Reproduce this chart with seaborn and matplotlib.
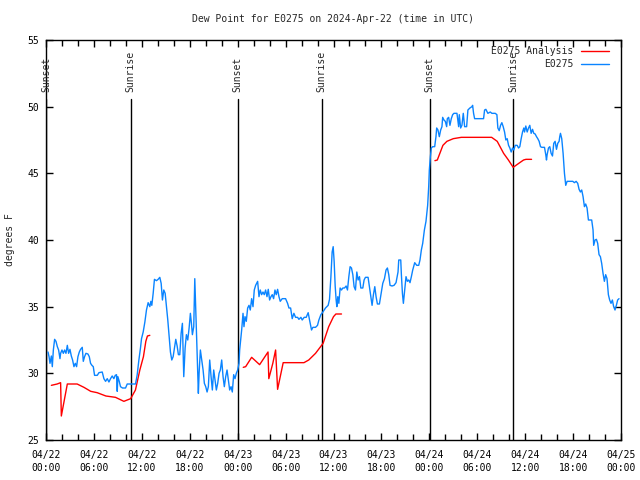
import numpy as np
import pandas as pd
import matplotlib
matplotlib.use("Agg")
import matplotlib.pyplot as plt
import matplotlib.dates as mdates
import seaborn as sns

# ---------------- data ----------------
start = pd.Timestamp("2024-04-22 00:00")
end = pd.Timestamp("2024-04-25 00:00")

# observed dew point (hours since 04/22 00:00 UTC, deg F)
obs_hours = [0.25, 0.38, 0.5, 0.67, 0.79, 0.92, 1.08, 1.25, 1.42, 1.58, 1.75, 1.83, 2.0, 2.17, 2.33, 2.5,
             2.67, 2.83, 3.0, 3.17, 3.33, 3.5, 3.67, 3.83, 4.0, 4.17, 4.33, 4.54, 4.67, 4.83, 5.0, 5.25,
             5.42, 5.58, 5.75, 5.92, 6.08, 6.42, 6.63, 7.04, 7.25, 7.46, 7.67, 7.88, 8.08, 8.29, 8.5, 8.67,
             8.83, 8.92, 9.0, 9.17, 9.33, 9.58, 9.96, 10.17, 10.58, 11.21, 11.42, 11.63, 11.83, 11.96, 12.17,
             12.38, 12.58, 12.79, 13.0, 13.13, 13.25, 13.42, 13.58, 13.83, 14.04, 14.25, 14.42, 14.58, 14.75,
             14.92, 15.08, 15.25, 15.42, 15.58, 15.75, 15.92, 16.08, 16.25, 16.42, 16.58, 16.75, 16.92, 17.08,
             17.25, 17.42, 17.58, 17.75, 17.92, 18.08, 18.21, 18.33, 18.5, 18.63, 18.75, 18.92, 19.08, 19.17,
             19.33, 19.5, 19.67, 19.83, 20.0, 20.17, 20.33, 20.5, 20.67, 20.83, 21.0, 21.17, 21.33, 21.5,
             21.67, 21.83, 22.0, 22.17, 22.33, 22.5, 22.67, 22.83, 23.0, 23.17, 23.33, 23.5, 23.67, 23.83,
             24.0, 24.17, 24.25, 24.38, 24.5, 24.67, 24.79, 24.92, 25.08, 25.25, 25.42, 25.58, 25.75, 25.92,
             26.08, 26.25, 26.5, 26.67, 26.83, 27.0, 27.17, 27.33, 27.5, 27.67, 27.83, 28.0, 28.17, 28.33,
             28.5, 28.67, 28.83, 29.0, 29.17, 29.33, 29.58, 30.0, 30.25, 30.42, 30.63, 30.83, 31.04, 31.25,
             31.5, 31.67, 31.92, 32.08, 32.33, 32.58, 32.83, 33.0, 33.25, 33.42, 33.75, 34.0, 34.17, 34.42,
             34.67, 35.0, 35.33, 35.5, 35.67, 35.83, 35.96, 36.08, 36.21, 36.33, 36.42, 36.54, 36.67, 36.83,
             37.0, 37.17, 37.38, 37.58, 37.75, 37.92, 38.08, 38.25, 38.42, 38.58, 38.75, 38.92, 39.08, 39.25,
             39.42, 39.67, 39.83, 40.0, 40.33, 40.5, 40.67, 40.83, 41.0, 41.17, 41.33, 41.5, 41.75, 41.96,
             42.17, 42.38, 42.58, 42.75, 42.92, 43.08, 43.33, 43.58, 43.83, 44.08, 44.17, 44.42, 44.5, 44.63,
             44.75, 44.92, 45.08, 45.25, 45.42, 45.58, 45.75, 45.92, 46.17, 46.42, 46.67, 46.83, 47.0, 47.17,
             47.38, 47.58, 47.79, 47.92, 48.0, 48.13, 48.25, 48.42, 48.67, 48.83, 48.92, 49.08, 49.25, 49.42,
             49.58, 49.67, 49.83, 50.0, 50.17, 50.25, 50.42, 50.58, 50.75, 50.92, 51.08, 51.46, 51.67, 51.75,
             51.92, 52.08, 52.25, 52.42, 52.67, 52.83, 53.08, 53.33, 53.42, 53.54, 53.67, 54.17, 54.79, 54.92,
             55.08, 55.33, 55.63, 55.83, 56.25, 56.46, 56.58, 56.75, 56.92, 57.08, 57.25, 57.42, 57.58, 57.75,
             57.92, 58.08, 58.25, 58.42, 58.58, 58.75, 59.0, 59.17, 59.33, 59.5, 59.67, 59.83, 59.92, 60.08,
             60.25, 60.42, 60.58, 60.75, 60.92, 61.08, 61.25, 61.42, 61.58, 61.75, 61.92, 62.08, 62.42, 62.58,
             62.67, 62.75, 62.92, 63.08, 63.25, 63.42, 63.58, 63.75, 63.92, 64.08, 64.25, 64.33, 64.42, 64.58,
             64.75, 64.92, 65.08, 65.25, 65.54, 65.96, 66.17, 66.38, 66.58, 66.75, 66.92, 67.08, 67.25, 67.42,
             67.58, 67.75, 67.92, 68.33, 68.5, 68.58, 68.75, 68.92, 69.08, 69.25, 69.42, 69.58, 69.75, 69.92,
             70.08, 70.25, 70.42, 70.58, 70.75, 70.92, 71.08, 71.25, 71.42, 71.58, 71.75]
obs_values = [31.6, 31.25, 30.75, 31.3, 30.5, 31.75, 32.55, 32.4, 32.0, 31.75, 31.1, 31.5, 31.75, 31.5, 31.75, 31.5,
              32.1, 31.5, 31.8, 31.3, 31.0, 30.5, 30.75, 30.5, 31.25, 31.6, 31.8, 31.95, 30.9, 31.25, 31.5, 31.45,
              31.25, 30.75, 30.6, 30.5, 29.85, 29.85, 30.05, 30.1, 29.6, 29.4, 29.6, 29.35, 29.6, 29.8, 29.6, 29.85,
              29.9, 28.65, 29.75, 29.4, 29.0, 28.9, 28.9, 29.2, 29.2, 29.2, 29.9, 31.0, 31.9, 32.6, 33.1,
              33.85, 34.75, 35.3, 35.0, 35.4, 35.1, 36.0, 37.05, 36.95, 37.05, 37.2, 36.75, 35.5, 36.25,
              36.0, 35.0, 34.0, 32.75, 31.6, 31.0, 31.25, 31.9, 32.55, 32.05, 31.4, 31.4, 33.0, 33.75,
              29.75, 31.9, 32.9, 32.5, 33.4, 34.5, 33.75, 32.9, 33.5, 37.1, 34.75, 31.25, 28.5, 30.0,
              31.75, 31.0, 30.25, 29.25, 29.0, 28.6, 29.0, 31.0, 29.75, 28.75, 30.25, 29.5, 28.75, 29.25,
              30.0, 30.25, 31.0, 29.75, 29.0, 29.75, 30.25, 29.5, 28.75, 29.0, 28.6, 29.9, 29.6, 30.0,
              30.25, 30.75, 31.75, 32.5, 33.25, 34.5, 33.5, 34.25, 33.9, 34.9, 35.1, 34.75, 35.6, 35.0,
              36.25, 36.6, 36.9, 35.75, 36.25, 35.9, 36.1, 35.9, 36.25, 35.75, 36.3, 35.5, 35.75, 35.9,
              35.6, 36.25, 35.9, 36.3, 35.75, 35.4, 35.6, 35.6, 35.25, 34.9, 34.9, 34.1, 34.5, 34.2,
              34.2, 34.05, 34.2, 34.0, 34.2, 34.2, 34.55, 34.0, 33.25, 33.45, 33.45, 33.6, 34.0, 34.4,
              34.6, 34.9, 35.1, 35.55, 37.2, 39.1, 39.5, 38.4, 36.55, 35.5, 35.0, 35.75, 35.25, 36.4,
              36.25, 36.4, 36.4, 36.55, 36.25, 37.25, 38.0, 37.9, 37.4, 36.5, 36.25, 37.6, 37.0, 37.25,
              36.4, 36.4, 37.0, 37.2, 37.2, 36.5, 35.75, 35.1, 35.9, 36.5, 35.75, 35.2, 35.2, 36.0,
              36.75, 37.1, 37.75, 37.9, 37.4, 36.6, 36.55, 36.6, 36.8, 37.6, 38.5, 38.5, 37.4, 36.0,
              35.25, 36.25, 37.25, 36.9, 37.0, 36.8, 37.25, 37.75, 38.3, 38.1, 38.1, 38.5, 39.25, 39.75,
              40.75, 41.4, 42.6, 44.0, 45.25, 46.25, 46.9, 47.0, 47.0, 47.75, 48.4, 48.25, 47.75, 48.25,
              48.5, 49.2, 49.0, 48.9, 48.5, 49.1, 49.2, 48.6, 49.1, 49.4, 49.5, 49.5, 48.5, 49.4,
              48.4, 48.6, 49.5, 48.5, 48.5, 49.75, 49.9, 50.0, 50.1, 49.5, 49.1, 49.1, 49.1, 49.75,
              49.8, 49.5, 49.6, 49.5, 49.5, 49.4, 48.4, 48.2, 48.6, 48.8, 48.5, 48.1, 47.5, 47.6,
              47.1, 46.9, 46.6, 46.9, 46.75, 47.1, 47.1, 46.9, 47.0, 47.6, 48.1, 48.4, 48.1, 48.55,
              48.1, 48.4, 48.6, 48.0, 48.3, 48.0, 47.95, 47.75, 47.6, 47.4, 47.0, 46.95, 46.95, 46.4,
              46.0, 46.4, 46.9, 47.0, 46.5, 46.3, 47.25, 47.4, 46.8, 47.25, 47.4, 47.75, 48.0, 47.6,
              46.5, 45.0, 44.1, 44.4, 44.4, 44.4, 44.3, 44.4, 44.25, 43.8, 43.6, 43.75, 43.25, 42.5,
              42.7, 42.4, 41.5, 41.5, 40.75, 39.6, 40.0, 40.05, 39.75, 38.9, 38.75, 38.25, 37.5, 36.9,
              37.4, 37.1, 35.9, 35.5, 35.25, 35.5, 35.0, 34.75, 35.1, 35.5, 35.6]

# analysis dew point, three separate runs (segments)
ana_hours = [0.67, 1.4, 1.83, 1.92, 2.67, 3.9, 4.75, 5.6, 6.4, 7.5, 8.7, 9.75, 10.6, 11.2, 11.75, 12.2, 12.5, 12.7, 13.0,
             24.7, 25.0, 25.75, 26.75, 27.8, 27.9, 28.4, 28.75, 29.0, 29.7, 32.3, 32.9, 33.75, 34.7, 35.4, 36.0, 36.3, 37.0,
             48.7, 49.0, 49.7, 50.2, 51.0, 52.0, 53.3, 54.4, 55.8, 56.5, 57.3, 57.9, 58.5, 59.2, 59.8, 60.1, 60.8]
ana_values = [29.1, 29.2, 29.3, 26.8, 29.2, 29.2, 28.95, 28.65, 28.55, 28.3, 28.2, 27.9, 28.1, 28.75, 30.25, 31.25, 32.4, 32.8, 32.85,
              30.45, 30.5, 31.2, 30.65, 31.6, 29.6, 30.75, 31.75, 28.8, 30.8, 30.8, 31.0, 31.5, 32.25, 33.5, 34.25, 34.45, 34.45,
              45.95, 46.0, 47.1, 47.4, 47.6, 47.7, 47.7, 47.7, 47.7, 47.4, 46.5, 46.0, 45.45, 45.75, 46.0, 46.05, 46.05]
ana_run = [1] * 19 + [2] * 18 + [3] * 17

sun_events = ["Sunset", "Sunrise", "Sunset", "Sunrise", "Sunset", "Sunrise"]
sun_hours = [0.02, 10.6, 24.02, 34.5, 48.04, 58.47]

title = "Dew Point for E0275 on 2024-Apr-22 (time in UTC)"
ylabel = "degrees F"
label_ana = "E0275 Analysis"
label_obs = "E0275"

# ---------------- plot ----------------
sns.set_style("ticks")
plt.rcParams["font.family"] = ["DejaVu Sans Mono", "DejaVu Sans"]
plt.rcParams["font.size"] = 7

obs = pd.DataFrame({"time": start + pd.to_timedelta(obs_hours, unit="h"), "value": obs_values})
ana = pd.DataFrame({"time": start + pd.to_timedelta(ana_hours, unit="h"), "value": ana_values, "run": ana_run})

fig = plt.figure(figsize=(6.4, 4.8), dpi=100)
ax = fig.add_axes([46 / 640, 40 / 480, 575 / 640, 400 / 480])

blue = "#0a84ff"
red = "#ff0000"

for t_h in sun_hours:
    t = start + pd.Timedelta(hours=t_h)
    ax.plot([t, t], [25, 50.6], color="black", lw=1.0, zorder=2)
for name, t_h in zip(sun_events, sun_hours):
    t = start + pd.Timedelta(hours=t_h)
    ax.text(t, 51.1, name, rotation=90, ha="center", va="bottom", fontsize=7, zorder=3)

sns.lineplot(data=ana, x="time", y="value", units="run", estimator=None, color=red, lw=1.0,
             ax=ax, label=label_ana, zorder=4)
sns.lineplot(data=obs, x="time", y="value", color=blue, lw=1.0, ax=ax, label=label_obs, zorder=5)

ax.set_xlim(start, end)
ax.set_ylim(25, 55)
ax.set_yticks([25, 30, 35, 40, 45, 50, 55])
ax.xaxis.set_major_locator(mdates.HourLocator(byhour=[0, 6, 12, 18]))
ax.xaxis.set_minor_locator(mdates.HourLocator(byhour=list(range(0, 24, 2))))
ax.xaxis.set_major_formatter(mdates.DateFormatter("%m/%d\n%H:%M"))
ax.tick_params(axis="both", which="both", direction="in", top=True, right=True, color="black",
               labelcolor="black", labelsize=7, width=1)
ax.tick_params(axis="both", which="major", length=5)
ax.tick_params(axis="x", which="minor", length=4)
ax.tick_params(axis="x", which="major", pad=7)
ax.tick_params(axis="y", which="major", pad=5)
for lbl in ax.get_xticklabels():
    lbl.set_linespacing(1.35)
for s in ax.spines.values():
    s.set_color("black")
    s.set_linewidth(1)

ax.set_xlabel("")
ax.set_ylabel(ylabel, fontsize=7)
ax.yaxis.set_label_coords(-31 / 575, 0.5)

fig.text(333 / 640, 1 - 19 / 480, title, ha="center", va="center", fontsize=7)

# one legend entry per series (analysis runs share one entry)
handles, labels = ax.get_legend_handles_labels()
seen = {}
for h, l in zip(handles, labels):
    if l not in seen:
        seen[l] = h
leg = ax.legend(list(seen.values()), list(seen.keys()), loc="upper right",
                bbox_to_anchor=(1 - 12 / 575, 1 - 6 / 400), frameon=False, markerfirst=False,
                fontsize=7, handlelength=2.9, handletextpad=0.8, labelspacing=0.3,
                borderaxespad=0, borderpad=0)

fig.savefig("out.png", dpi=100)
